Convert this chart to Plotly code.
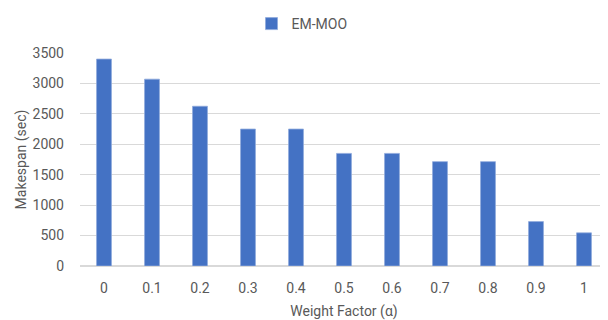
import plotly.graph_objects as go

categories = ["0", "0.1", "0.2", "0.3", "0.4", "0.5", "0.6", "0.7", "0.8", "0.9", "1"]
makespan = [3400, 3070, 2625, 2250, 2250, 1850, 1850, 1715, 1715, 730, 545]
y_ticks = [0, 500, 1000, 1500, 2000, 2500, 3000, 3500]

FONT = "Roboto, Noto Sans, sans-serif"
GRAY = "#595959"

fig = go.Figure()
fig.add_trace(go.Bar(
    x=categories, y=makespan, name="EM-MOO",
    marker=dict(color="#4472C4", line=dict(color="#8FAADC", width=0.8)),
    width=0.31,
))

# page body has an 8px margin, so the figure is 600x312 and offset by 8px
fig.update_layout(
    width=600, height=312,
    margin=dict(l=72, r=0, t=45, b=54, autoexpand=False),
    paper_bgcolor="white", plot_bgcolor="white",
    font=dict(family=FONT, color=GRAY, size=14),
    showlegend=True,
    legend=dict(orientation="h", x=0.49, xanchor="center", y=1.0, yanchor="top",
                xref="container", yref="container", itemwidth=30,
                font=dict(size=14, color=GRAY)),
    xaxis=dict(
        type="category", showgrid=False, zeroline=False, automargin=False,
        showline=False, ticks="", ticklabelstandoff=12, tickfont=dict(size=14, color=GRAY),
        title=dict(text="Weight Factor (α)", font=dict(size=14, color=GRAY), standoff=11),
    ),
    yaxis=dict(
        range=[0, 3500], tickvals=y_ticks, showgrid=True, gridcolor="#D9D9D9",
        gridwidth=1, zeroline=True, zerolinecolor="#D9D9D9", showline=False, automargin=False,
        ticks="", ticklabelstandoff=15, tickfont=dict(size=14, color=GRAY),
        title=dict(text="Makespan (sec)", font=dict(size=14, color=GRAY), standoff=2),
    ),
)
fig.write_html("out.html")
